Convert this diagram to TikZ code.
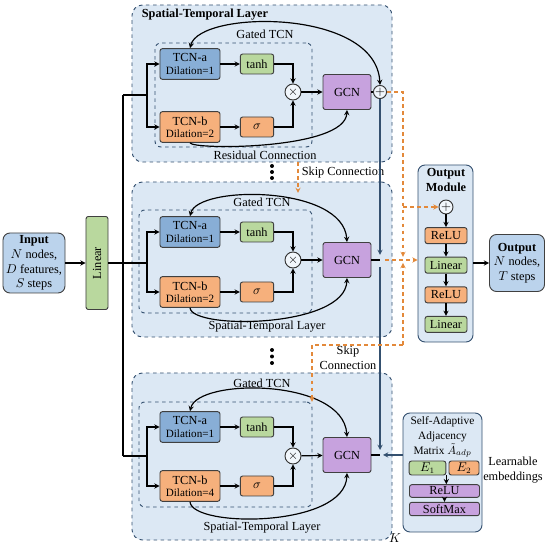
\documentclass[tikz,border=0pt]{standalone}
\usepackage{fontspec}
\setmainfont{Liberation Serif}
\usepackage{amsmath,amssymb}
\usepackage{xcolor}
\usepackage{tikz}
\usetikzlibrary{positioning}

\definecolor{laybg}{HTML}{DCE8F4}
\definecolor{navy}{HTML}{34506F}
\definecolor{tcnblue}{HTML}{88AED6}
\definecolor{tcnorange}{HTML}{F6B07C}
\definecolor{actgreen}{HTML}{B9D89E}
\definecolor{gcnpurple}{HTML}{C7A2DE}
\definecolor{ioblue}{HTML}{BBD3EC}
\definecolor{skiporange}{HTML}{E3893A}

\begin{document}
\begin{tikzpicture}[x=0.03cm, y=-0.03cm, node distance=0.38cm, font=\fontsize{10.5}{12.5}\selectfont]
\tikzstyle{layer} = [rectangle, draw=navy, dashed, thick, fill=laybg, rounded corners=9pt]
\tikzstyle{gated} = [rectangle, draw=navy, dashed, thick, rounded corners=5pt]
\tikzstyle{block} = [rectangle, draw=black!75, thick, text centered, rounded corners=2pt, inner sep=1pt]
\tikzstyle{tcn} = [block, minimum width=1.8cm, minimum height=0.92cm, align=center]
\tikzstyle{act} = [block, fill=actgreen, minimum width=1cm, minimum height=0.6cm]
\tikzstyle{gcn} = [block, fill=gcnpurple, minimum width=1.44cm, minimum height=1.05cm]
\tikzstyle{op} = [circle, draw=black!80, thick, fill=laybg!40, inner sep=0pt, minimum size=0.48cm]
\tikzstyle{mod} = [block, minimum width=1.26cm, minimum height=0.48cm]
\tikzstyle{panel} = [rectangle, draw=navy, thick, fill=laybg, rounded corners=6pt]
\tikzstyle{arrow} = [line width=1pt,->,>=stealth]
\tikzstyle{link} = [line width=1pt]
\tikzstyle{skip} = [line width=1pt, dashed, draw=skiporange, ->, >=stealth]
\tikzstyle{res} = [line width=1pt, draw=navy, ->, >=stealth]

\useasboundingbox (0,0) rectangle (550,545);

% layer backgrounds
\node (lay1) [layer, minimum width=7.8cm, minimum height=4.71cm] at (262,83.5) {};
\node (lay2) [layer, minimum width=7.8cm, minimum height=4.65cm] at (262,259.5) {};
\node (lay3) [layer, minimum width=7.8cm, minimum height=5.01cm] at (262,456.5) {};
\node (gate1) [gated, minimum width=4.71cm, minimum height=3.12cm] at (233.5,95) {};
\node (gate2) [gated, minimum width=5.19cm, minimum height=3.09cm] at (225.5,261.5) {};
\node (gate3) [gated, minimum width=5.19cm, minimum height=3.15cm] at (225.5,454.5) {};

% input side
\node (inp) [block, fill=ioblue, rounded corners=6pt, minimum width=1.86cm, minimum height=1.8cm, align=center] at (34,263) {\textbf{Input}\\$N$ nodes,\\$D$ features,\\$S$ steps};
\node (lin) [block, fill=actgreen, rotate=90, minimum width=2.79cm, minimum height=0.66cm] at (97,263) {Linear};

% layer 1
\node (tcna1) [tcn, fill=tcnblue] at (190,64) {TCN-a\\[-2pt]{\fontsize{9.5}{11}\selectfont Dilation=1}};
\node (tcnb1) [tcn, fill=tcnorange] at (190,127) {TCN-b\\[-2pt]{\fontsize{9.5}{11}\selectfont Dilation=2}};
\node (tanh1) [act] at (257,64) {tanh};
\node (sig1) [act, fill=tcnorange] at (257,127) {$\sigma$};
\node (mul1) [op] at (293,92) {$\times$};
\node (gcn1) [gcn] at (347,92) {GCN};
\node (add1) [op, minimum size=0.38cm] at (380,92) {$+$};
\node (lay1t) at (205,15) {\textbf{Spatial-Temporal Layer}};
\node (gate1t) at (265,34) {Gated TCN};
\node (res1t) at (265,155) {Residual Connection};

% layer 2
\node (tcna2) [tcn, fill=tcnblue] at (190,232) {TCN-a\\[-2pt]{\fontsize{9.5}{11}\selectfont Dilation=1}};
\node (tcnb2) [tcn, fill=tcnorange] at (190,292) {TCN-b\\[-2pt]{\fontsize{9.5}{11}\selectfont Dilation=2}};
\node (tanh2) [act] at (257,232) {tanh};
\node (sig2) [act, fill=tcnorange] at (257,292) {$\sigma$};
\node (mul2) [op] at (293,260) {$\times$};
\node (gcn2) [gcn] at (347,260) {GCN};
\node (gate2t) at (262,202) {Gated TCN};
\node (lay2t) at (267,327) {Spatial-Temporal Layer};

% layer 3
\node (tcna3) [tcn, fill=tcnblue] at (190,427) {TCN-a\\[-2pt]{\fontsize{9.5}{11}\selectfont Dilation=1}};
\node (tcnb3) [tcn, fill=tcnorange] at (190,486) {TCN-b\\[-2pt]{\fontsize{9.5}{11}\selectfont Dilation=4}};
\node (tanh3) [act] at (257,427) {tanh};
\node (sig3) [act, fill=tcnorange] at (257,486) {$\sigma$};
\node (mul3) [op] at (293,456) {$\times$};
\node (gcn3) [gcn] at (347,455) {GCN};
\node (gate3t) at (262,383) {Gated TCN};
\node (lay3t) at (262,528) {Spatial-Temporal Layer};
\node (kt) at (395,538) {$K$};

% dots and skip labels
\fill (272,166) circle (1.7pt);
\fill (272,172) circle (1.7pt);
\fill (272,178) circle (1.7pt);
\fill (272,350) circle (1.7pt);
\fill (272,356.5) circle (1.7pt);
\fill (272,363) circle (1.7pt);
\node (skip1t) at (343,173) {Skip Connection};
\node (skip2t) [align=center] at (348,358) {Skip\\Connection};

% output module
\node (omod) [panel, minimum width=1.65cm, minimum height=5.31cm] at (445.5,253.5) {};
\node (omodt) [align=center] at (446,180) {\textbf{Output}\\\textbf{Module}};
\node (madd) [op, minimum size=0.42cm] at (446,207) {$+$};
\node (relu1) [mod, fill=tcnorange, below=of madd] {ReLU};
\node (lina) [mod, fill=actgreen, below=of relu1] {Linear};
\node (relu2) [mod, fill=tcnorange, below=of lina] {ReLU};
\node (linb) [mod, fill=actgreen, below=of relu2] {Linear};
\node (out) [block, fill=ioblue, rounded corners=6pt, minimum width=1.65cm, minimum height=1.71cm, align=center] at (517,263) {\textbf{Output}\\$N$ nodes,\\$T$ steps};

% adaptive adjacency
\node (adj) [panel, minimum width=2.37cm, minimum height=3.57cm] at (442.5,472.5) {};
\node (adjt) [align=center, inner sep=0pt, font=\fontsize{9.7}{12.6}\selectfont] at (442.5,437) {Self-Adaptive\\Adjacency\\Matrix $\tilde{A}_{adp}$};
\node (e1) [block, fill=actgreen, minimum width=1.1cm, minimum height=0.42cm] at (427.5,468) {$E_1$};
\node (e2) [block, fill=tcnorange, minimum width=0.9cm, minimum height=0.42cm] at (464,468) {$E_2$};
\node (arelu) [block, fill=gcnpurple, minimum width=2.1cm, minimum height=0.38cm] at (444.5,491) {ReLU};
\node (asoft) [block, fill=gcnpurple, minimum width=2.1cm, minimum height=0.4cm] at (444.5,509) {SoftMax};
\node (learnt) [align=center] at (513,470) {Learnable\\embeddings};

% trunk from linear
\coordinate (tr1) at (123,95);
\coordinate (tr2) at (123,263);
\coordinate (tr3) at (123,456);
\coordinate (br1) at (147,95);
\coordinate (br2) at (147,263);
\coordinate (br3) at (147,456);
\draw [arrow] (inp) -- (lin);
\draw [link] (lin) -- (tr2);
\draw [link] (tr1) -- (tr3);
\draw [link] (tr1) -- (br1);
\draw [link] (tr2) -- (br2);
\draw [link] (tr3) -- (br3);
\draw [arrow] (br1) |- (tcna1);
\draw [arrow] (br1) |- (tcnb1);
\draw [arrow] (br2) |- (tcna2);
\draw [arrow] (br2) |- (tcnb2);
\draw [arrow] (br3) |- (tcna3);
\draw [arrow] (br3) |- (tcnb3);

% gated units
\draw [arrow] (tcna1) -- (tanh1);
\draw [arrow] (tcnb1) -- (sig1);
\draw [arrow] (tanh1) -| (mul1);
\draw [arrow] (sig1) -| (mul1);
\draw [arrow] (mul1) -- (gcn1);
\draw [link] (gcn1) -- (add1);
\draw [arrow, <->] (tcna1.north) .. controls (200,10) and (376,8) .. (add1.north);
\draw [arrow] (tcnb1.south) .. controls (192,150) and (345,150) .. (gcn1.south);

\draw [arrow] (tcna2) -- (tanh2);
\draw [arrow] (tcnb2) -- (sig2);
\draw [arrow] (tanh2) -| (mul2);
\draw [arrow] (sig2) -| (mul2);
\draw [arrow] (mul2) -- (gcn2);
\draw [arrow, <->] (tcna2.north) .. controls (198,185) and (343,185) .. (gcn2.north);
\draw [arrow] (tcnb2.south) .. controls (192,330) and (345,328) .. (gcn2.south);

\draw [arrow] (tcna3) -- (tanh3);
\draw [arrow] (tcnb3) -- (sig3);
\draw [arrow] (tanh3) -| (mul3);
\draw [arrow] (sig3) -| (mul3);
\draw [arrow] (mul3) -- (gcn3);
\draw [arrow, <->] (tcna3.north) .. controls (198,378) and (343,378) .. (gcn3.north);
\draw [arrow] (tcnb3.south) .. controls (192,528) and (345,528) .. (gcn3.south);

% residual path between layers
\coordinate (j2) at (380,260);
\coordinate (j2a) at (380,255);
\coordinate (j2b) at (380,267);
\coordinate (j3) at (380,455);
\coordinate (j3a) at (380,450);
\coordinate (j3r) at (383,455);
\draw [res] (add1) -- (j2a);
\draw [link] (gcn2) -- (j2);
\draw [res] (j2b) -- (j3a);
\draw [link] (gcn3) -- (j3);
\draw [res] (adj.west |- j3r) -- (j3r);

% skip connections
\coordinate (s1) at (403,92);
\coordinate (s2) at (403,207);
\coordinate (sm) at (403,257);
\coordinate (smb) at (403,263);
\coordinate (s3) at (403,345);
\coordinate (s4) at (312,345);
\coordinate (s5) at (312,402);
\coordinate (k1) at (298,162);
\coordinate (k2) at (298,193);
\coordinate (j2o) at (385,260);
\draw [skip] (add1) -- (s1) -- (sm);
\draw [skip] (s2) -- (madd);
\draw [skip] (s3) -- (smb);
\draw [skip] (s3) -- (s4) -- (s5);
\draw [skip] (k1) -- (k2);
\draw [skip] (j2o) -- (omod.west |- j2o);

% output module flow
\draw [arrow] (madd) -- (relu1);
\draw [arrow] (relu1) -- (lina);
\draw [arrow] (lina) -- (relu2);
\draw [arrow] (relu2) -- (linb);
\draw [arrow] (omod.east |- out) -- (out);

% adjacency flow
\draw [arrow] (e1.south east) -- (e1.south east |- arelu.north);
\draw [arrow] (arelu) -- (asoft);

\end{tikzpicture}
\end{document}
